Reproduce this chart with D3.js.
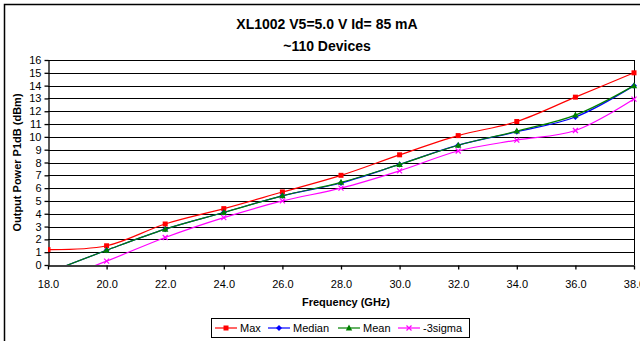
<!DOCTYPE html>
<html>
<head>
<meta charset="utf-8">
<script src="https://cdn.jsdelivr.net/npm/d3@7"></script>
<style>
  body { margin: 0; background: #fff; }
  svg { display: block; font-family: Arial, "Liberation Sans", sans-serif; }
</style>
</head>
<body>
<div id="chart"></div>
<script>
// data
const freqs = [18, 20, 22, 24, 26, 28, 30, 32, 34, 36, 38];
const maxVals = [1.2, 1.5, 3.2, 4.4, 5.7, 7.0, 8.6, 10.1, 11.2, 13.1, 15.0];
const medianVals = [-0.6, 1.15, 2.8, 4.1, 5.4, 6.4, 7.85, 9.35, 10.4, 11.55, 14.0];
const meanVals = [-0.6, 1.15, 2.8, 4.1, 5.4, 6.45, 7.85, 9.35, 10.45, 11.7, 14.0];
const sigmaVals = [-1.4, 0.3, 2.15, 3.7, 5.0, 6.0, 7.35, 8.9, 9.75, 10.5, 12.95];
const yTicks = d3.range(0, 17);
const xTicks = [18, 20, 22, 24, 26, 28, 30, 32, 34, 36, 38];

const series = [
  { name: 'Max', values: maxVals, color: '#ff0000', marker: 'square' },
  { name: 'Median', values: medianVals, color: '#0000ff', marker: 'diamond' },
  { name: 'Mean', values: meanVals, color: '#008000', marker: 'triangle' },
  { name: '-3sigma', values: sigmaVals, color: '#ff00ff', marker: 'cross' }
];

const W = 640, H = 341;
const plot = { left: 48, right: 634, top: 60, bottom: 265 };

const svg = d3.select('#chart').append('svg').attr('width', W).attr('height', H);

// outer chart border (cropped on right / bottom in the reference)
svg.append('path')
  .attr('d', `M4.5,${H + 2} V4.5 H${W + 2}`)
  .attr('fill', 'none').attr('stroke', '#000').attr('stroke-width', 1.5);

const x = d3.scaleLinear().domain([18, 38]).range([plot.left, plot.right]);
const y = d3.scaleLinear().domain([0, 16]).range([plot.bottom, plot.top]);

// title
svg.append('text').attr('x', 327).attr('y', 28.5).attr('text-anchor', 'middle')
  .attr('font-size', 14).attr('font-weight', 'bold').text('XL1002 V5=5.0 V Id= 85 mA');
svg.append('text').attr('x', 327).attr('y', 50.5).attr('text-anchor', 'middle')
  .attr('font-size', 14).attr('font-weight', 'bold').text('~110 Devices');

// gridlines
svg.append('g').selectAll('line').data(yTicks.filter(d => d > 0)).enter().append('line')
  .attr('x1', plot.left).attr('x2', plot.right)
  .attr('y1', d => Math.round(y(d)) + 0.5).attr('y2', d => Math.round(y(d)) + 0.5)
  .attr('stroke', '#000').attr('stroke-width', 1);

// plot border right side
svg.append('line')
  .attr('x1', plot.right + 0.5).attr('x2', plot.right + 0.5)
  .attr('y1', plot.top).attr('y2', plot.bottom)
  .attr('stroke', '#000');

// axes
const yAxis = d3.axisLeft(y).tickValues(yTicks).tickSize(4).tickSizeOuter(0).tickPadding(3);
const gy = svg.append('g').attr('transform', `translate(${plot.left + 0.5},0)`).call(yAxis);
const xAxis = d3.axisBottom(x).tickValues(xTicks).tickFormat(d3.format('.1f')).tickSize(4).tickSizeOuter(0).tickPadding(11);
const gx = svg.append('g').attr('transform', `translate(0,${plot.bottom + 0.5})`).call(xAxis);
[gx, gy].forEach(g => {
  g.selectAll('text').attr('font-size', 11).attr('fill', '#000').attr('font-family', 'Arial, "Liberation Sans", sans-serif');
  g.selectAll('line, path').attr('stroke', '#000').attr('stroke-width', 1.3);
});

// axis titles
svg.append('text').attr('x', (plot.left + plot.right) / 2 + 5).attr('y', 306).attr('text-anchor', 'middle')
  .attr('font-size', 11).attr('font-weight', 'bold').text('Frequency (GHz)');
svg.append('text').attr('transform', `translate(21,${(plot.top + plot.bottom) / 2}) rotate(-90)`)
  .attr('text-anchor', 'middle').attr('font-size', 11).attr('font-weight', 'bold')
  .text('Output Power P1dB (dBm)');

// clip
svg.append('clipPath').attr('id', 'clip').append('rect')
  .attr('x', plot.left).attr('y', plot.top - 6).attr('width', plot.right - plot.left + 6).attr('height', plot.bottom - plot.top + 6);

const line = d3.line().x((d, i) => x(freqs[i])).y(d => y(d)).curve(d3.curveCatmullRom.alpha(0.5));

function drawMarker(g, type, color, cx, cy) {
  if (type === 'square') {
    g.append('rect').attr('x', cx - 2.5).attr('y', cy - 2.5).attr('width', 5).attr('height', 5).attr('fill', color);
  } else if (type === 'diamond') {
    g.append('path').attr('d', `M${cx},${cy - 3}L${cx + 3},${cy}L${cx},${cy + 3}L${cx - 3},${cy}Z`).attr('fill', color);
  } else if (type === 'triangle') {
    g.append('path').attr('d', `M${cx},${cy - 3.5}L${cx + 3.2},${cy + 2.5}L${cx - 3.2},${cy + 2.5}Z`).attr('fill', color);
  } else {
    g.append('path').attr('d', `M${cx - 2.5},${cy - 2.5}L${cx + 2.5},${cy + 2.5}M${cx - 2.5},${cy + 2.5}L${cx + 2.5},${cy - 2.5}`)
      .attr('stroke', color).attr('stroke-width', 1.2);
  }
}

const plotG = svg.append('g').attr('clip-path', 'url(#clip)');
series.forEach(s => {
  plotG.append('path').datum(s.values)
    .attr('fill', 'none').attr('stroke', s.color).attr('stroke-width', 1.2).attr('d', line);
  const mg = plotG.append('g');
  s.values.forEach((v, i) => {
    if (v >= 0) drawMarker(mg, s.marker, s.color, x(freqs[i]), y(v));
  });
});

// legend
const leg = svg.append('g');
leg.append('rect').attr('x', 211.5).attr('y', 318.5).attr('width', 258).attr('height', 19)
  .attr('fill', '#fff').attr('stroke', '#000');
const legX = [215, 268, 338, 398];
series.forEach((s, i) => {
  const lx = legX[i], ly = 328;
  leg.append('line').attr('x1', lx).attr('x2', lx + 22).attr('y1', ly).attr('y2', ly)
    .attr('stroke', s.color).attr('stroke-width', 1.2);
  drawMarker(leg, s.marker, s.color, lx + 11, ly);
  leg.append('text').attr('x', lx + 25).attr('y', ly + 4).attr('font-size', 11).text(s.name);
});
</script>
</body>
</html>
